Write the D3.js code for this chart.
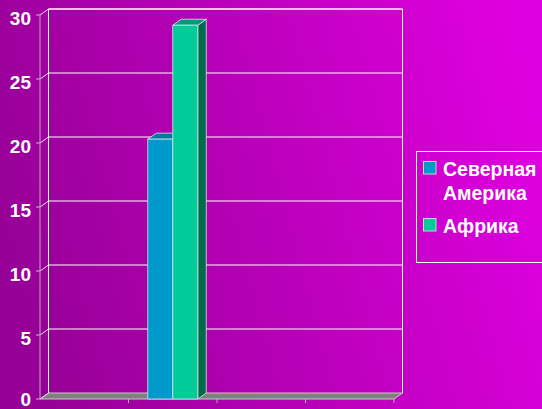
<!DOCTYPE html>
<html>
<head>
<meta charset="utf-8">
<script src="https://cdn.jsdelivr.net/npm/d3@7"></script>
<style>
  html, body { margin: 0; padding: 0; overflow: hidden; }
  text { font-family: "Liberation Sans", Arial, sans-serif; font-weight: bold; fill: #fff; }
</style>
</head>
<body>
<svg id="chart" width="542" height="409"></svg>
<script>
// chart data
const categories = ["1", "2", "3", "4"];
const seriesNames = ["Северная Америка", "Африка"];
const northAmerica = [0, 20.3, 0, 0];
const africa = [0, 29.2, 0, 0];
const yTicks = [0, 5, 10, 15, 20, 25, 30];

const seriesValues = [northAmerica, africa];
const frontColors = ["#0099cc", "#00cc99"];
const topColors = ["#007a9f", "#00997a"];
const sideColors = ["#006a8a", "#006a4a"];

const svg = d3.select("#chart");

// background gradient
const defs = svg.append("defs");
const grad = defs.append("linearGradient")
  .attr("id", "bg")
  .attr("x1", "0").attr("y1", "0.6")
  .attr("x2", "1").attr("y2", "0.4");
grad.append("stop").attr("offset", "0").attr("stop-color", "#960096");
grad.append("stop").attr("offset", "1").attr("stop-color", "#de00de");
svg.append("rect").attr("width", 542).attr("height", 409).attr("fill", "url(#bg)");

// 3d depth offset
const dx = 8.5, dy = -6;

const x = d3.scaleBand().domain(categories).range([40, 394]);
const xs = d3.scaleBand().domain(seriesNames).range([0, 50]);
const y = d3.scaleLinear().domain([0, 30]).range([399, 15]);

const x0 = x.range()[0], x1 = x.range()[1];

// floor
svg.append("path")
  .attr("d", `M${x0},${y(0)} L${x1},${y(0)} L${x1 + dx},${y(0) + dy} L${x0 + dx},${y(0) + dy} Z`)
  .attr("fill", "#808080")
  .attr("stroke", "#c8c8c8")
  .attr("stroke-width", 1);

// back wall: gridlines + frame
const grid = svg.append("g");
grid.selectAll("line.h")
  .data(yTicks.filter(d => d > 0))
  .join("line")
  .attr("x1", x0 + dx).attr("x2", x1 + dx)
  .attr("y1", d => y(d) + dy).attr("y2", d => y(d) + dy)
  .attr("stroke", "#fff").attr("stroke-width", 1);
grid.selectAll("line.d")
  .data(yTicks)
  .join("line")
  .attr("class", "d")
  .attr("x1", x0 - 4).attr("y1", d => y(d))
  .attr("x2", x0).attr("y2", d => y(d))
  .attr("stroke", "#c0c0c0");
grid.selectAll("path.diag")
  .data(yTicks)
  .join("path")
  .attr("d", d => `M${x0},${y(d)} L${x0 + dx},${y(d) + dy}`)
  .attr("stroke", "#e0e0e0").attr("fill", "none");
grid.append("path")
  .attr("d", `M${x0 + dx},${y(0) + dy} V${y(30) + dy} H${x1 + dx} V${y(0) + dy}`)
  .attr("fill", "none").attr("stroke", "#fff");

// y axis line
svg.append("line")
  .attr("x1", x0).attr("x2", x0)
  .attr("y1", y(30)).attr("y2", y(0))
  .attr("stroke", "#b0b0b0");

// x ticks below floor
svg.append("g")
  .selectAll("line")
  .data(categories.slice(1))
  .join("line")
  .attr("x1", d => x(d)).attr("x2", d => x(d))
  .attr("y1", y(0)).attr("y2", y(0) + 4)
  .attr("stroke", "#b0b0b0");
svg.append("path")
  .attr("d", `M${x1},${y(0)} V${y(0) + 4}`)
  .attr("stroke", "#b0b0b0");

// y labels
svg.append("g")
  .selectAll("text")
  .data(yTicks)
  .join("text")
  .attr("x", 31)
  .attr("y", d => Math.min(y(d) + 10, 406))
  .attr("text-anchor", "end")
  .style("font-size", "19px")
  .text(d => d);

// bars
const bars = [];
seriesValues.forEach((vals, si) => {
  vals.forEach((v, ci) => {
    if (v > 0) bars.push({ si, ci, v });
  });
});

const barW = xs.bandwidth();
const barG = svg.append("g");
bars.forEach(b => {
  const bx = x(categories[b.ci]) + x.bandwidth() / 2 - 25 + xs(seriesNames[b.si]);
  const top = y(b.v), base = y(0);
  const g = barG.append("g")
    .attr("stroke", "#d8e8e8").attr("stroke-width", 0.8).attr("stroke-linejoin", "round");
  // side
  g.append("path")
    .attr("d", `M${bx + barW},${base} L${bx + barW + dx},${base + dy} L${bx + barW + dx},${top + dy} L${bx + barW},${top} Z`)
    .attr("fill", sideColors[b.si]);
  // top
  g.append("path")
    .attr("d", `M${bx},${top} L${bx + dx},${top + dy} L${bx + barW + dx},${top + dy} L${bx + barW},${top} Z`)
    .attr("fill", topColors[b.si]);
  // front
  g.append("rect")
    .attr("x", bx).attr("y", top)
    .attr("width", barW).attr("height", base - top)
    .attr("fill", frontColors[b.si]);
});

// legend
const legend = svg.append("g");
legend.append("rect")
  .attr("x", 416.5).attr("y", 151.5)
  .attr("width", 130).attr("height", 111)
  .attr("fill", "none").attr("stroke", "#fff");

const legendRows = [
  { lines: ["Северная", "Америка"], y: 176 },
  { lines: ["Африка"], y: 233 }
];
legendRows.forEach((row, i) => {
  legend.append("rect")
    .attr("x", 423.5).attr("y", row.y - 14.5)
    .attr("width", 12.5).attr("height", 12.5)
    .attr("fill", frontColors[i])
    .attr("stroke", "#d0d0d0");
  row.lines.forEach((t, j) => {
    legend.append("text")
      .attr("x", 443).attr("y", row.y + j * 24)
      .style("font-size", "19.5px")
      .text(t);
  });
});
</script>
</body>
</html>
